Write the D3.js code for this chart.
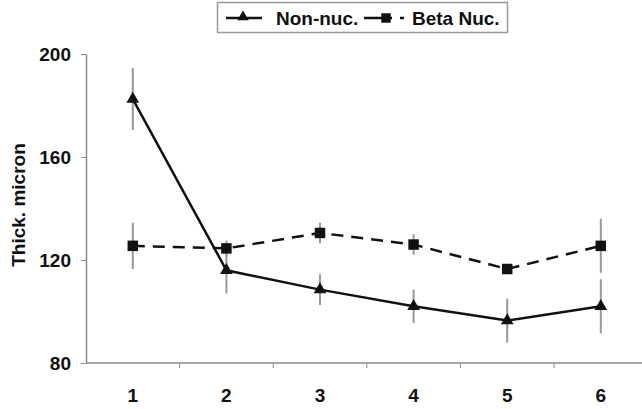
<!DOCTYPE html>
<html>
<head>
<meta charset="utf-8">
<script src="https://cdn.jsdelivr.net/npm/d3@7"></script>
<style>
  body { margin: 0; background: #fff; }
  svg { display: block; font-family: "Liberation Sans", Arial, sans-serif; }
</style>
</head>
<body>
<div id="chart"></div>
<script>
// data
const days = [1, 2, 3, 4, 5, 6];
const nonNuc = [182.5, 116, 108.5, 102, 96.5, 102];
const nonNucErr = [12, 9, 6, 6.5, 8.5, 10.5];
const betaNuc = [125.5, 124.5, 130.5, 126, 116.5, 125.5];
const betaNucErr = [9, 3, 4, 4, 2, 10.5];
const yTicks = [80, 120, 160, 200];

const W = 642, H = 409;
const fs = "19px";
const svg = d3.select("#chart").append("svg")
  .attr("width", W).attr("height", H);

// plot box (right side runs off the picture like the original)
const plotLeft = 86, plotTop = 54, plotBottom = 363;
const x = d3.scaleBand().domain(days).range([plotLeft, plotLeft + 6 * 93.6]);
const y = d3.scaleLinear().domain([80, 200]).range([plotBottom, plotTop]);

// axes
const axisColor = "#8a8a8a";
const yAxis = svg.append("g")
  .attr("transform", `translate(${plotLeft},0)`)
  .call(d3.axisLeft(y).tickValues(yTicks).tickSize(5).tickSizeOuter(0).tickPadding(10));
yAxis.select(".domain").attr("stroke", axisColor).attr("stroke-width", 1.5);
yAxis.selectAll(".tick line").attr("stroke", axisColor);
yAxis.selectAll(".tick text")
  .style("font-size", fs).style("font-weight", "bold").attr("fill", "#111");

const xg = svg.append("g").attr("transform", `translate(0,${plotBottom})`);
xg.append("line")
  .attr("x1", plotLeft).attr("x2", W)
  .attr("stroke", axisColor).attr("stroke-width", 1.5);
xg.selectAll("line.tk")
  .data(days.slice(1))
  .join("line")
  .attr("class", "tk")
  .attr("x1", d => x(d)).attr("x2", d => x(d))
  .attr("y1", 0).attr("y2", 5)
  .attr("stroke", axisColor);
xg.selectAll("text")
  .data(days)
  .join("text")
  .attr("x", d => x(d) + x.bandwidth() / 2)
  .attr("y", 39)
  .attr("text-anchor", "middle")
  .style("font-size", fs).style("font-weight", "bold")
  .attr("fill", "#111")
  .text(d => d);

// y title
svg.append("text")
  .attr("transform", `translate(25,205) rotate(-90)`)
  .attr("text-anchor", "middle")
  .style("font-size", fs).style("font-weight", "bold")
  .attr("fill", "#111")
  .text("Thick. micron");

const cx = d => x(d) + x.bandwidth() / 2;

const series = [
  { vals: betaNuc, err: betaNucErr, dash: "12,8", shape: d3.symbolSquare, size: 110 },
  { vals: nonNuc, err: nonNucErr, dash: null, shape: d3.symbolTriangle, size: 70 }
];

// error bars
series.forEach(s => {
  svg.append("g").selectAll("line")
    .data(days)
    .join("line")
    .attr("x1", cx).attr("x2", cx)
    .attr("y1", (d, i) => y(s.vals[i] + s.err[i]))
    .attr("y2", (d, i) => y(s.vals[i] - s.err[i]))
    .attr("stroke", "#999")
    .attr("stroke-width", 2);
});

// lines + markers
series.forEach(s => {
  const line = d3.line().x(cx).y((d, i) => y(s.vals[i]));
  svg.append("path")
    .datum(days)
    .attr("d", line)
    .attr("fill", "none")
    .attr("stroke", "#111")
    .attr("stroke-width", 2.5)
    .attr("stroke-dasharray", s.dash);
  svg.append("g").selectAll("path")
    .data(days)
    .join("path")
    .attr("transform", (d, i) => `translate(${cx(d)},${y(s.vals[i])})`)
    .attr("d", d3.symbol().type(s.shape).size(s.size))
    .attr("fill", "#111");
});

// legend
const lg = svg.append("g");
lg.append("rect")
  .attr("x", 217.5).attr("y", 2.5).attr("width", 290).attr("height", 30)
  .attr("fill", "#fff").attr("stroke", "#999").attr("stroke-width", 1.5);
lg.append("line").attr("x1", 226).attr("x2", 262).attr("y1", 18).attr("y2", 18)
  .attr("stroke", "#111").attr("stroke-width", 2.5);
lg.append("path").attr("transform", "translate(243,17)")
  .attr("d", d3.symbol().type(d3.symbolTriangle).size(55)).attr("fill", "#111");
lg.append("text").attr("x", 276).attr("y", 25)
  .style("font-size", fs).style("font-weight", "bold").attr("fill", "#111")
  .text("Non-nuc.");
lg.append("line").attr("x1", 364).attr("x2", 405).attr("y1", 18).attr("y2", 18)
  .attr("stroke", "#111").attr("stroke-width", 2.5).attr("stroke-dasharray", "28,8,4,20");
lg.append("path").attr("transform", "translate(386,18)")
  .attr("d", d3.symbol().type(d3.symbolSquare).size(90)).attr("fill", "#111");
lg.append("text").attr("x", 412).attr("y", 25)
  .style("font-size", fs).style("font-weight", "bold").attr("fill", "#111")
  .text("Beta Nuc.");
</script>
</body>
</html>
